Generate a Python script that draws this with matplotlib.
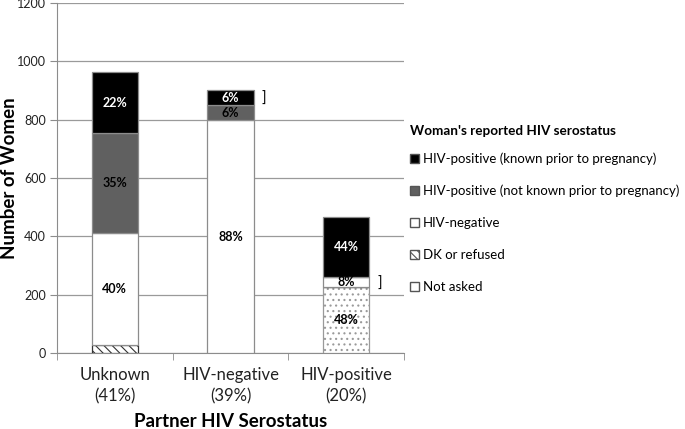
import matplotlib
matplotlib.use('Agg')

from matplotlib import pyplot as plt
from matplotlib.patches import Patch
import numpy as np

plt.rcParams['font.family'] = ['Lato', 'DejaVu Sans']
plt.rcParams['hatch.linewidth'] = 0.8

categories = ['Unknown\n(41%)', 'HIV-negative\n(39%)', 'HIV-positive\n(20%)']

# segment counts, bottom to top
not_asked = [0, 0, 225]
dk_refused = [27, 0, 0]
hiv_negative = [383, 798, 35]
hiv_pos_not_known = [344, 51, 0]
hiv_pos_known = [209, 54, 207]

label_not_asked = ['', '', '48%']
label_negative = ['40%', '88%', '8%']
label_not_known = ['35%', '6%', '']
label_known = ['22%', '6%', '44%']

legend_labels = ['HIV-positive (known prior to pregnancy)',
                 'HIV-positive (not known prior to pregnancy)',
                 'HIV-negative',
                 'DK or refused',
                 'Not asked']

fig = plt.figure(figsize=(6.85, 4.29), dpi=100)
ax = fig.add_axes([0.083, 0.177, 0.507, 0.816])

x = np.arange(len(categories))
w = 0.4
edge = '#8c8c8c'

bottom = np.zeros(3)
segments = [
    (not_asked, dict(facecolor='white', hatch='...', edgecolor='#9a9a9a'), label_not_asked, 'black'),
    (dk_refused, dict(facecolor='white', hatch='\\\\\\\\', edgecolor='#333333'), None, 'black'),
    (hiv_negative, dict(facecolor='white', edgecolor=edge), label_negative, 'black'),
    (hiv_pos_not_known, dict(facecolor='#606060', edgecolor=edge), label_not_known, 'black'),
    (hiv_pos_known, dict(facecolor='black', edgecolor=edge), label_known, 'white'),
]
for vals, style, labels, tcolor in segments:
    vals = np.array(vals)
    ax.bar(x, vals, w, bottom=bottom, linewidth=0.9, zorder=3, **style)
    if labels:
        for i, lab in enumerate(labels):
            if lab:
                ax.text(x[i], bottom[i] + vals[i] / 2, lab, ha='center', va='center',
                        fontsize=9, fontweight='bold', color=tcolor, zorder=4)
    bottom = bottom + vals

# brackets next to small segments
ax.text(x[1] + w / 2 + 0.07, hiv_negative[1] + hiv_pos_not_known[1] + hiv_pos_known[1] / 2 - 4,
        ']', fontsize=11, va='center', ha='left')
ax.text(x[2] + w / 2 + 0.07, not_asked[2] + hiv_negative[2] / 2 - 4,
        ']', fontsize=11, va='center', ha='left')

ax.set_xlim(-0.5, 2.5)
ax.set_ylim(0, 1200)
ax.set_yticks(np.arange(0, 1201, 200))
ax.yaxis.grid(True, color='#9a9a9a', linewidth=0.9, zorder=0)
ax.set_axisbelow(True)
ax.set_xticks(x)
ax.set_xticklabels(categories, fontsize=12, color='#222222', linespacing=1.4)
ax.set_xticks([-0.5, 0.5, 1.5, 2.5], minor=True)
ax.tick_params(axis='x', which='major', length=0, pad=10)
ax.tick_params(axis='x', which='minor', length=5, color=edge)
ax.tick_params(axis='y', length=5, color=edge, labelsize=9, labelcolor='#222222', pad=3)
for s in ['top', 'right']:
    ax.spines[s].set_visible(False)
ax.spines['left'].set_color(edge)
ax.spines['bottom'].set_color(edge)

ax.set_ylabel('Number of Women', fontsize=13.5, fontweight='bold')
ax.yaxis.set_label_coords(-0.112, 0.5)
ax.set_xlabel('Partner HIV Serostatus', fontsize=13.5, fontweight='bold')
ax.xaxis.set_label_coords(0.5, -0.172)

handles = [
    Patch(facecolor='black', edgecolor='#555555'),
    Patch(facecolor='#606060', edgecolor='#555555'),
    Patch(facecolor='white', edgecolor='#555555'),
    Patch(facecolor='white', edgecolor='#555555', hatch='\\\\\\\\'),
    Patch(facecolor='white', edgecolor='#555555', hatch='.'),
]
leg = fig.legend(handles, legend_labels, loc='upper left', bbox_to_anchor=(0.598, 0.708),
                 frameon=False, fontsize=9.5, title="Woman's reported HIV serostatus",
                 title_fontproperties={'weight': 'bold', 'size': 9.7},
                 handlelength=0.7, handleheight=0.7, handletextpad=0.3,
                 labelspacing=1.5, borderaxespad=0, borderpad=0)
leg._legend_box.align = 'left'
leg._legend_box.sep = 11

plt.savefig('out.png', dpi=100)
plt.close()
